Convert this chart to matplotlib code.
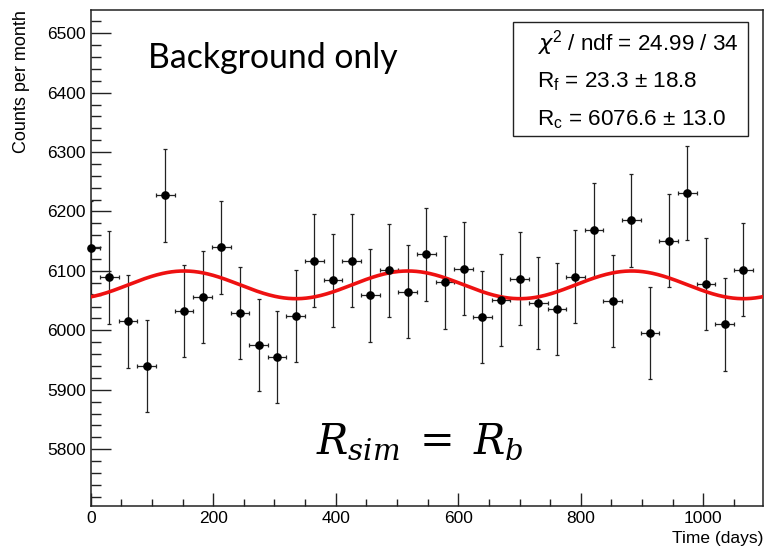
"""Monthly counts vs time, background-only simulation with annual-modulation fit."""

import numpy as np
import matplotlib
matplotlib.use("Agg")
import matplotlib.pyplot as plt
from matplotlib.patches import Rectangle
from matplotlib.ticker import MultipleLocator

# ── Data ───────────────────────────────────────────────────────────────────
month = np.arange(36)
days = month * 365.25 / 12          # bin centres (days)
half_bin = 365.25 / 24               # horizontal error = half a month
counts = [6139, 6089, 6015, 5940, 6227, 6033, 6056, 6140, 6029, 5976,
          5955, 6024, 6117, 6084, 6117, 6059, 6101, 6065, 6128, 6081,
          6104, 6022, 6051, 6087, 6046, 6036, 6090, 6169, 6049, 6185,
          5996, 6151, 6231, 6078, 6010, 6102]
count_err = np.sqrt(counts)          # Poisson errors

# fit result (from the stats box)
chi2, ndf = 24.99, 34
R_f, R_f_err = 23.3, 18.8
R_c, R_c_err = 6076.6, 13.0
period, phase = 365.25, 152.5

# ── Style ──────────────────────────────────────────────────────────────────
plt.rcParams.update({
    "font.family": ["Liberation Sans", "DejaVu Sans"],
    "font.size": 12,
    "axes.linewidth": 1.1,
    "axes.edgecolor": "#222222",
})

fig = plt.figure(figsize=(7.66, 5.47), dpi=100)
ax = fig.add_axes([0.1184, 0.0755, 0.8781, 0.9062])

# data points with error bars
ax.errorbar(days, counts, xerr=half_bin, yerr=count_err, fmt="none",
            ecolor="#222222", elinewidth=0.9, capsize=1.3, capthick=0.9,
            zorder=2)
ax.plot(days, counts, "o", color="black", markersize=5.2, zorder=4,
        clip_on=False)

# fit curve
t = np.linspace(0, 1098, 600)
ax.plot(t, R_c + R_f * np.cos(2 * np.pi * (t - phase) / period),
        color="#ee1111", linewidth=2.6, zorder=3)

ax.set_xlim(0, 1098)
ax.set_ylim(5705, 6539)

ax.xaxis.set_major_locator(MultipleLocator(200))
ax.xaxis.set_minor_locator(MultipleLocator(50))
ax.yaxis.set_major_locator(MultipleLocator(100))
ax.yaxis.set_minor_locator(MultipleLocator(20))

ax.tick_params(axis="both", which="both", direction="in", top=False,
               right=False, width=1.0, color="#222222", labelsize=12.5)
ax.tick_params(axis="y", which="major", length=14.5, pad=3.5)
ax.tick_params(axis="y", which="minor", length=7.2)
ax.tick_params(axis="x", which="major", length=9.6, pad=4)
ax.tick_params(axis="x", which="minor", length=4.8)

ax.set_xlabel("Time (days)", loc="right", fontsize=12.5)
ax.xaxis.set_label_coords(1.0, -0.052)
ax.set_ylabel("Counts per month", loc="top", fontsize=13)
ax.yaxis.set_label_coords(-0.090, 1.0)

# ── Annotations ────────────────────────────────────────────────────────────
fig.text(148 / 766, 1 - 68 / 547, "Background only", fontsize=24.3,
         family="Lato", va="baseline", ha="left")

fig.text(316 / 766, 1 - 453 / 547, r"$R_{sim}\;=\;R_b$", fontsize=30,
         math_fontfamily="dejavuserif", va="baseline", ha="left")

# stats box
box = Rectangle((513 / 766, 1 - 136 / 547), 235 / 766, 113.5 / 547,
                transform=fig.transFigure, facecolor="white",
                edgecolor="#222222", linewidth=1.0, zorder=5)
fig.patches.append(box)
stats_lines = [
    r"$\chi^{\mathregular{2}}$" + f" / ndf = {chi2:.2f} / {ndf}",
    r"R$_{\mathregular{f}}$" + f" = {R_f:.1f} \u00b1 {R_f_err:.1f}",
    r"R$_{\mathregular{c}}$" + f" = {R_c:.1f} \u00b1 {R_c_err:.1f}",
]
for i, line in enumerate(stats_lines):
    fig.text(537 / 766, 1 - (50 + 37.5 * i) / 547, line, fontsize=16.2,
             va="baseline", ha="left", zorder=6)

fig.savefig("out.png", dpi=100)
